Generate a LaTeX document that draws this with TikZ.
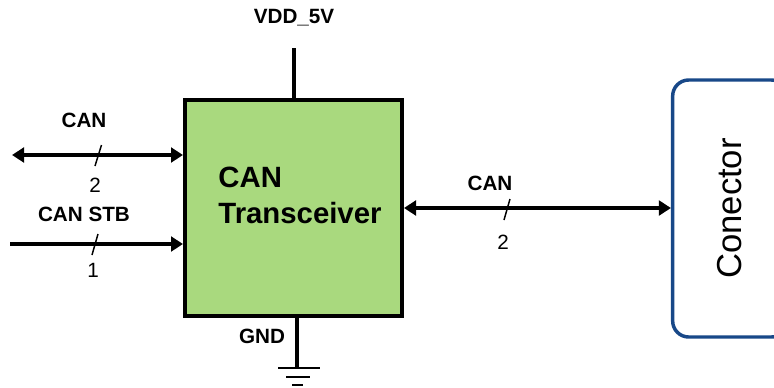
\documentclass[tikz,border=0pt]{standalone}
\usepackage{fontspec}
\setmainfont{Liberation Sans}
\usepackage{xcolor}
\definecolor{xcvrgreen}{RGB}{169,217,126}
\definecolor{connblue}{RGB}{24,72,136}
\usetikzlibrary{arrows.meta, positioning}

\begin{document}
\begin{tikzpicture}[
  x=0.75pt, y=-0.75pt,
  xcvrbox/.style={rectangle, draw=black, fill=xcvrgreen, line width=3pt,
                  minimum width=162.75pt, minimum height=162pt},
  connbox/.style={rectangle, rounded corners=12pt, draw=connblue, fill=white, line width=2.6pt,
                  minimum width=192.75pt, minimum height=86pt, rotate=90,
                  font=\fontsize{26}{28}\selectfont},
  sig/.style={line width=3pt},
  sigarr/.style={line width=3pt, -{Triangle[length=9pt, width=11pt]}},
  sigbi/.style={line width=3pt, {Triangle[length=9pt, width=11pt]}-{Triangle[length=9pt, width=11pt]}},
  bus/.style={line width=1.1pt},
  lbl/.style={font=\bfseries\fontsize{15.5}{17}\selectfont},
  num/.style={font=\fontsize{15.5}{17}\selectfont}
]
  \useasboundingbox (0,0) rectangle (774,387);
  % Transceiver block
  \node[xcvrbox] (xcvr) at (293.5,208) {};
  \node[align=left, font=\bfseries\fontsize{22}{27}\selectfont, inner sep=0pt] (xcvrlbl) at (300,195) {CAN\\Transceiver};
  % Connector block
  \node[connbox] (conn) at (730,208.5) {Conector};

  % Supply and ground
  \coordinate (vdd) at (294,48);
  \node[lbl] (vddlbl) at (294,18) {VDD\_5V};
  \draw[sig] (vdd) -- (vdd |- xcvr.north);
  \coordinate (gnd) at (297,368);
  \node[lbl] (gndlbl) at (262,336) {GND};
  \draw[sig] (xcvr.south -| gnd) -- (gnd);
  \draw[line width=2.2pt] (278,368) -- (320,368);
  \draw[line width=2.2pt] (286,377) -- (310,377);
  \draw[line width=2.2pt] (292,385) -- (303,385);

  % Left side: CAN bus
  \coordinate (canl) at (12,155);
  \draw[sigbi] (canl) -- (canl -| xcvr.west);
  \draw[bus] (101.5,145) -- (95,166);
  \node[lbl] (canllbl) at (84,120) {CAN};
  \node[num] (canlnum) at (95,185) {2};
  % Left side: standby
  \coordinate (stb) at (10,244);
  \draw[sigarr] (stb) -- (stb -| xcvr.west);
  \draw[bus] (98,234) -- (92,255);
  \node[lbl] (stblbl) at (84,214) {CAN STB};
  \node[num] (stbnum) at (93,270) {1};

  % Right side: CAN bus to connector
  \coordinate (canr) at (xcvr.east |- 0,208);
  \draw[sigbi] (canr) -- (canr -| conn.north);
  \draw[bus] (510,199) -- (504,220);
  \node[lbl] (canrlbl) at (490,183) {CAN};
  \node[num] (canrnum) at (503,242) {2};
\end{tikzpicture}
\end{document}
